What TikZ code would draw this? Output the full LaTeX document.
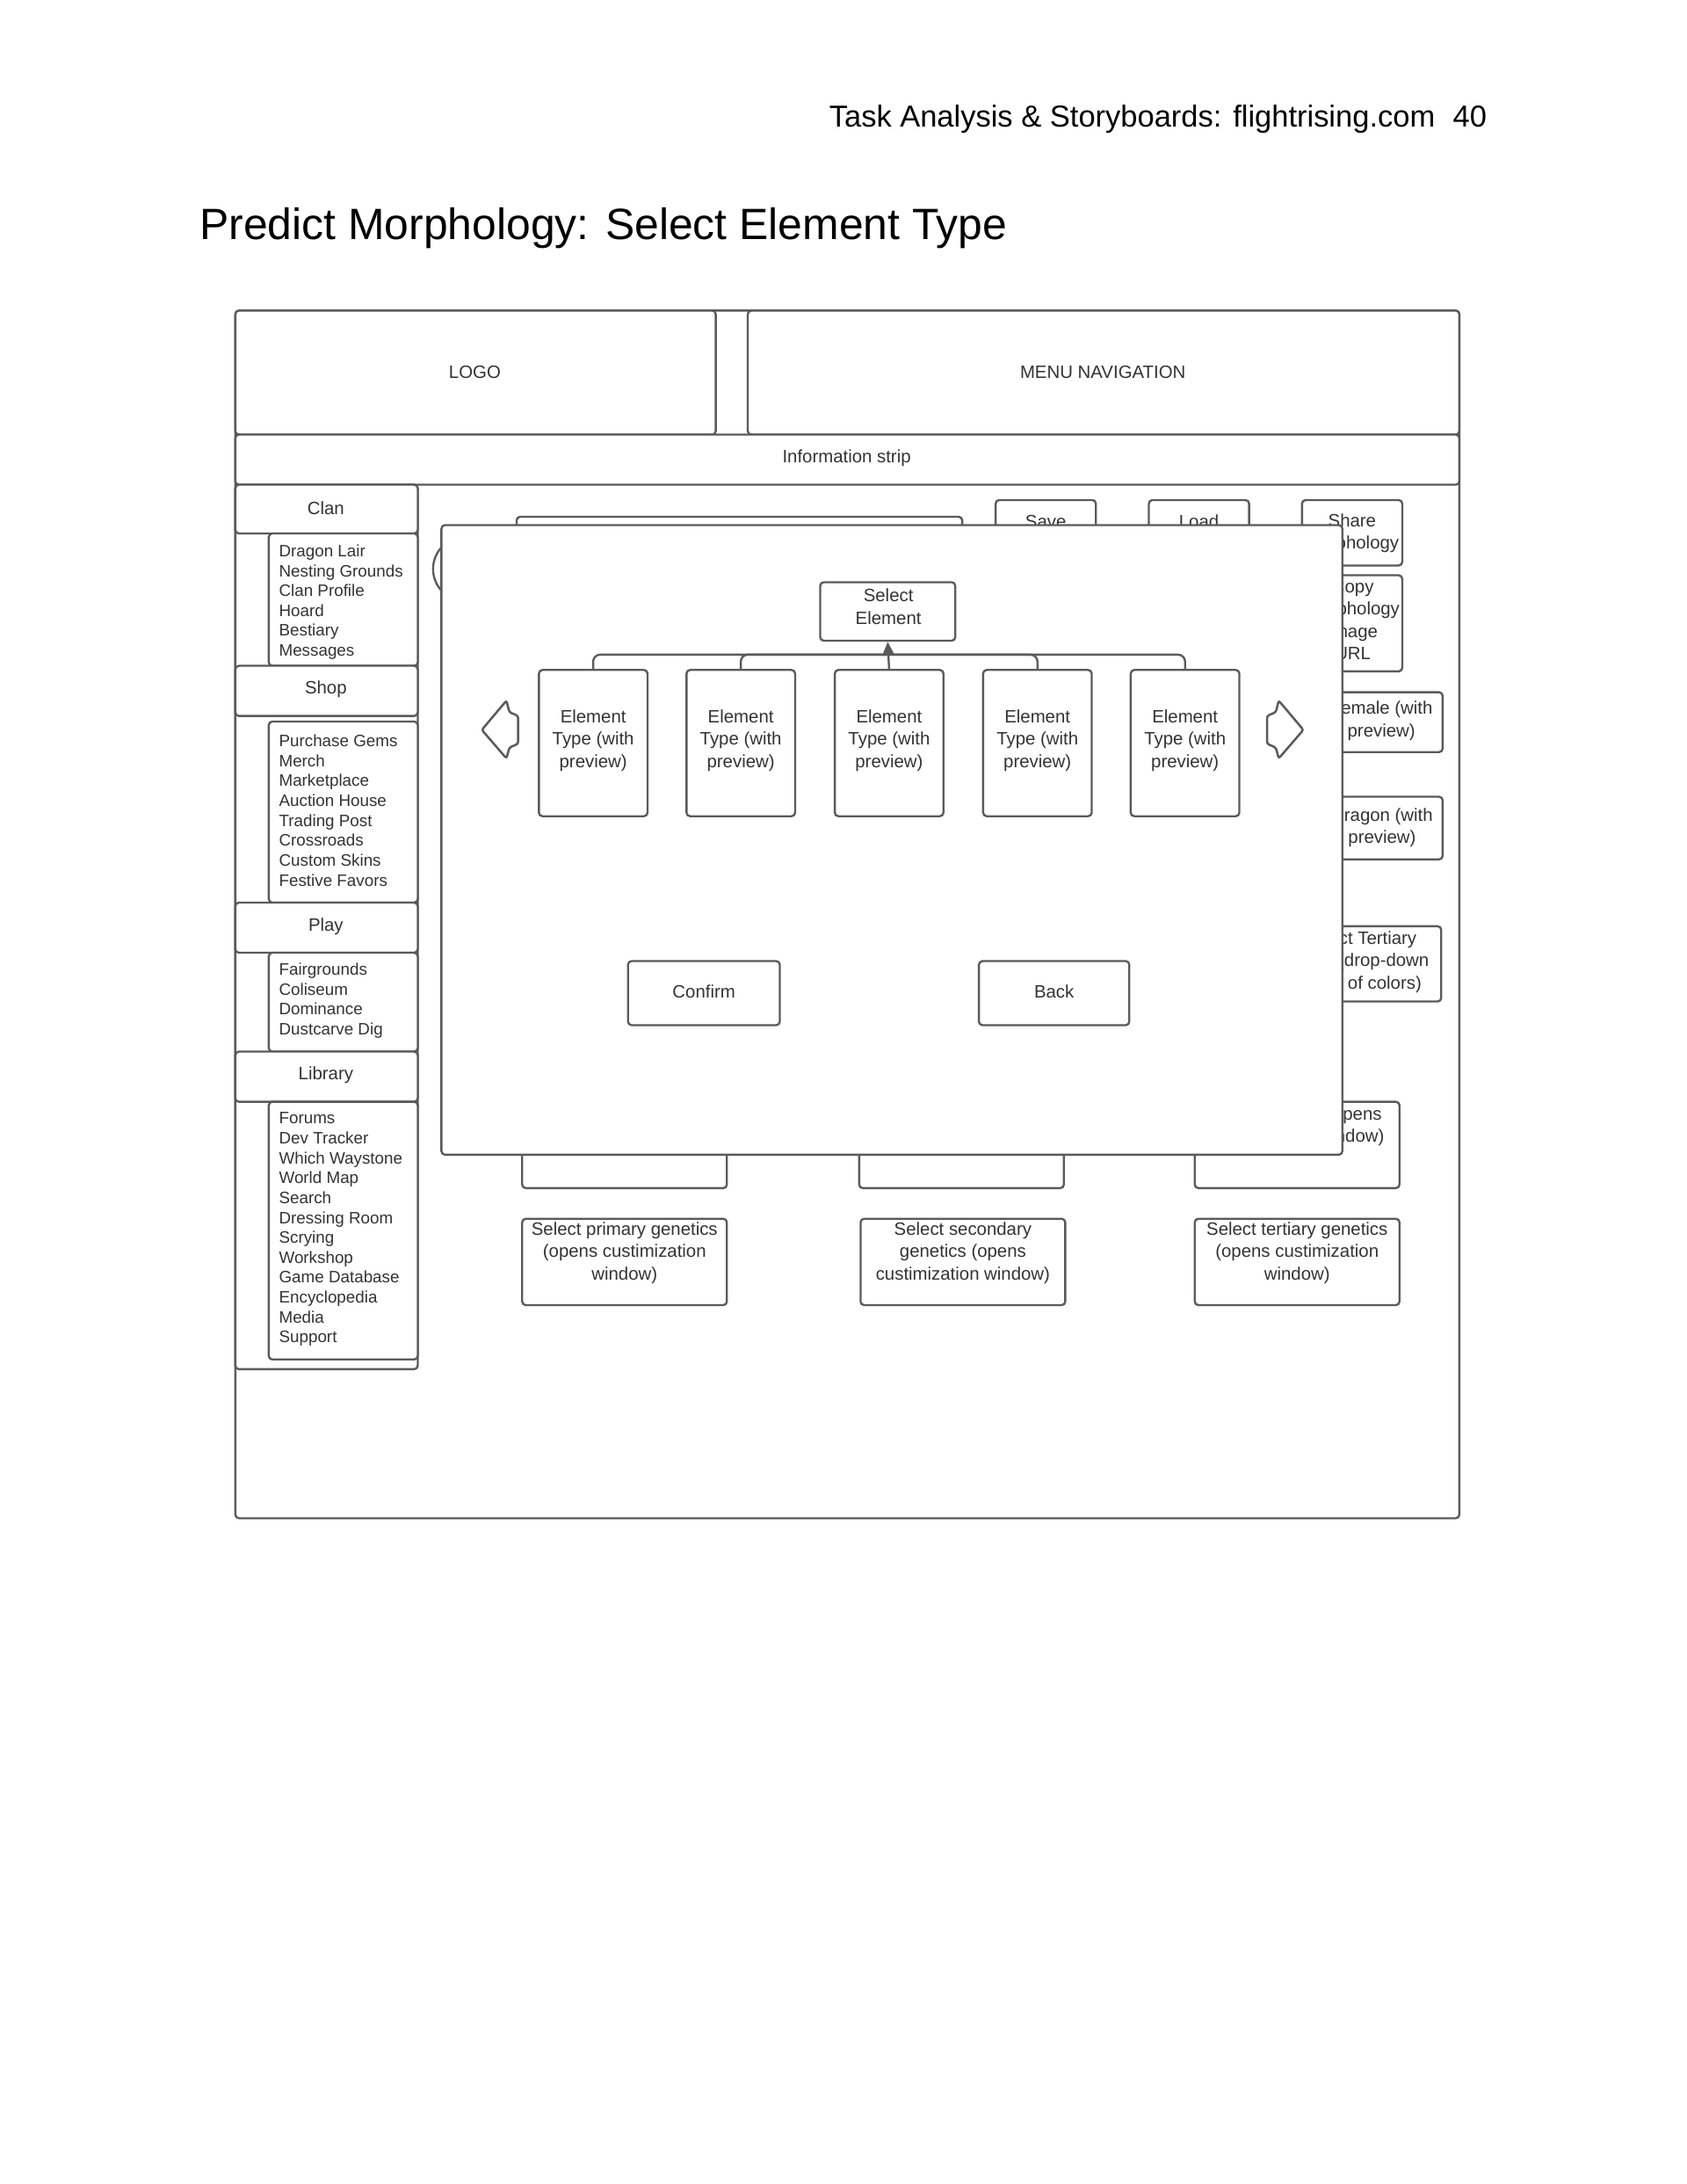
\documentclass[tikz,border=0pt]{standalone}
\usepackage{fontspec}
\setmainfont{Liberation Sans}
\usetikzlibrary{arrows.meta}
\definecolor{ln}{HTML}{5A5A5A}
\definecolor{tx}{HTML}{333333}
\newcommand\rbox[6][]{%
  \node[box,#1,minimum width={((#4)-(#2))*0.5054pt},minimum height={((#5)-(#3))*0.5054pt}] (#6) at ({((#2)+(#4))/2},{((#3)+(#5))/2}) {};}
\begin{document}
\begin{tikzpicture}[x=0.5054pt,y=-0.5054pt,
  box/.style={draw=ln, line width=0.75pt, rounded corners=1.3pt, inner sep=0pt, fill=white},
  lbl/.style={text=tx, font=\fontsize{6.5}{8.1}\selectfont, align=center, inner sep=0pt},
  lst/.style={text=tx, font=\fontsize{6}{7.2}\selectfont, inner sep=0pt, anchor=base west},
  conn/.style={draw=ln, line width=0.75pt, rounded corners=2.5pt},
  arrowshape/.style={draw=ln, line width=0.8pt, rounded corners=0.8pt, fill=white},
]
\useasboundingbox (0,0) rectangle (1211,1568);

% page header and title
\node[anchor=base east, font=\fontsize{11}{13}\selectfont, inner sep=0pt] (hdr) at (1031,91) {Task Analysis \& Storyboards: flightrising.com};
\node[anchor=base east, font=\fontsize{11}{13}\selectfont, inner sep=0pt] (pg) at (1068,91) {40};
\node[anchor=base west, font=\fontsize{15.9}{19}\selectfont, inner sep=0pt] (title) at (143,172) {Predict Morphology: Select Element Type};

% outer frame
\rbox{169}{223}{1048}{1090}{frame}
\rbox{169}{223}{514}{312}{logo}
\node[lbl] (logot) at (341,267) {LOGO};
\rbox{537}{223}{1048}{312}{menu}
\node[lbl] (menut) at (792,267) {MENU NAVIGATION};
\rbox{169}{312}{1048}{348}{info}
\node[lbl] (infot) at (608,329) {Information strip};

% left column
\rbox{169}{348}{300}{983}{col}
\rbox{169}{348}{300}{383}{clan}
\node[lbl] (clant) at (234,365) {Clan};
\rbox{193}{383}{300}{478}{clanl}
\foreach \t [count=\i] in {Dragon Lair, Nesting Grounds, Clan Profile, Hoard, Bestiary, Messages}
  \node[lst] (clan\i) at (200,{400+(\i-1)*14.2}) {\t};
\rbox{169}{478}{300}{514}{shop}
\node[lbl] (shopt) at (234,495) {Shop};
\rbox{193}{518}{300}{648}{shopl}
\foreach \t [count=\i] in {Purchase Gems, Merch, Marketplace, Auction House, Trading Post, Crossroads, Custom Skins, Festive Favors}
  \node[lst] (shop\i) at (200,{536+(\i-1)*14.3}) {\t};
\rbox{169}{648}{300}{684}{play}
\node[lbl] (playt) at (234,665) {Play};
\rbox{193}{684}{300}{755}{playl}
\foreach \t [count=\i] in {Fairgrounds, Coliseum, Dominance, Dustcarve Dig}
  \node[lst] (play\i) at (200,{700+(\i-1)*14.3}) {\t};
\rbox{169}{755}{300}{791}{lib}
\node[lbl] (libt) at (234,772) {Library};
\rbox{193}{791}{300}{976}{libl}
\foreach \t [count=\i] in {Forums, Dev Tracker, Which Waystone, World Map, Search, Dressing Room, Scrying, Workshop, Game Database, Encyclopedia, Media, Support}
  \node[lst] (lib\i) at (200,{807+(\i-1)*14.27}) {\t};

% background page content (partly covered by the modal)
\rbox{371}{371}{691}{420}{bgtop}
\node[draw=ln, line width=0.75pt, circle, minimum size={46*0.5054pt}, inner sep=0pt, fill=white] (bgcirc) at (334,408.5) {};
\rbox{715}{359}{787}{390}{save}
\node[lbl, anchor=base] (savet) at (751,379) {Save};
\rbox{825}{359}{897}{390}{load}
\node[lbl, anchor=base] (loadt) at (861,379) {Load};
\rbox{935}{359}{1007}{406}{share}
\node[lbl, anchor=base] (sharet) at (971,394) {Share\\Morphology};
\rbox{935}{413}{1007}{482}{copy}
\node[lbl, anchor=base] (copyt) at (971.5,473.5) {Copy\\Morphology\\Image\\URL};
\rbox{942}{497}{1036}{540}{female}
\node[lbl, anchor=base] (femalet) at (992,529) {Female (with\\preview)};
\rbox{942}{572}{1036}{617}{dragon}
\node[lbl, anchor=base] (dragont) at (992.5,605.5) {Dragon (with\\preview)};
\rbox{918}{665}{1035}{719}{tert}
\node[lbl, anchor=base] (tertt) at (976.5,710) {Select Tertiary\\Color (drop-down\\menu of colors)};
\rbox{375}{791}{522}{853}{popen}
\rbox{617}{791}{764}{853}{sopen}
\rbox{858}{791}{1005}{853}{topen}
\node[lbl, anchor=base] (topent) at (931.5,820) {Select tertiary (opens\\custimization window)};
\rbox{375}{875}{522}{937}{pgen}
\node[lbl] (pgent) at (448.5,899.5) {Select primary genetics\\(opens custimization\\window)};
\rbox{618}{875}{765}{937}{sgen}
\node[lbl] (sgent) at (691.5,899.5) {Select secondary\\genetics (opens\\custimization window)};
\rbox{858}{875}{1005}{937}{tgen}
\node[lbl] (tgent) at (931.5,899.5) {Select tertiary genetics\\(opens custimization\\window)};

% modal
\rbox{317}{377}{964}{829}{modal}
\rbox{589}{418}{686}{460}{sel}
\node[lbl] (selt) at (638,435.5) {Select\\Element};
\foreach \cx [count=\i] in {426,532,638.5,745,851} {
  \rbox{\cx-39}{481}{\cx+39}{586}{e\i}
  \node[lbl] (et\i) at (\cx,531.5) {Element\\Type (with\\preview)};
}
\coordinate (bus) at (638.5,470);
\draw[conn] (e1.north) |- (bus);
\draw[conn] (e2.north) |- (bus);
\draw[conn] (e4.north) |- (bus);
\draw[conn] (e5.north) |- (bus);
\draw[draw=ln, line width=0.75pt, -{Triangle[length=5pt,width=4.4pt]}, fill=ln] (e3.north) -- (sel.south);

% carousel arrows
\draw[arrowshape] (346,524) -- (363.7,503) -- (365.8,511.3) -- (372.1,514) -- (372.1,534) -- (365.8,536.7) -- (363.7,544.5) -- cycle;
\draw[arrowshape] (936,524) -- (918.3,503) -- (916.2,511.3) -- (909.9,514) -- (909.9,534) -- (916.2,536.7) -- (918.3,544.5) -- cycle;

\rbox{451}{690}{560}{736}{confirm}
\node[lbl] (confirmt) at (505.5,712) {Confirm};
\rbox{703}{690}{811}{736}{back}
\node[lbl] (backt) at (757,712) {Back};
\end{tikzpicture}
\end{document}
